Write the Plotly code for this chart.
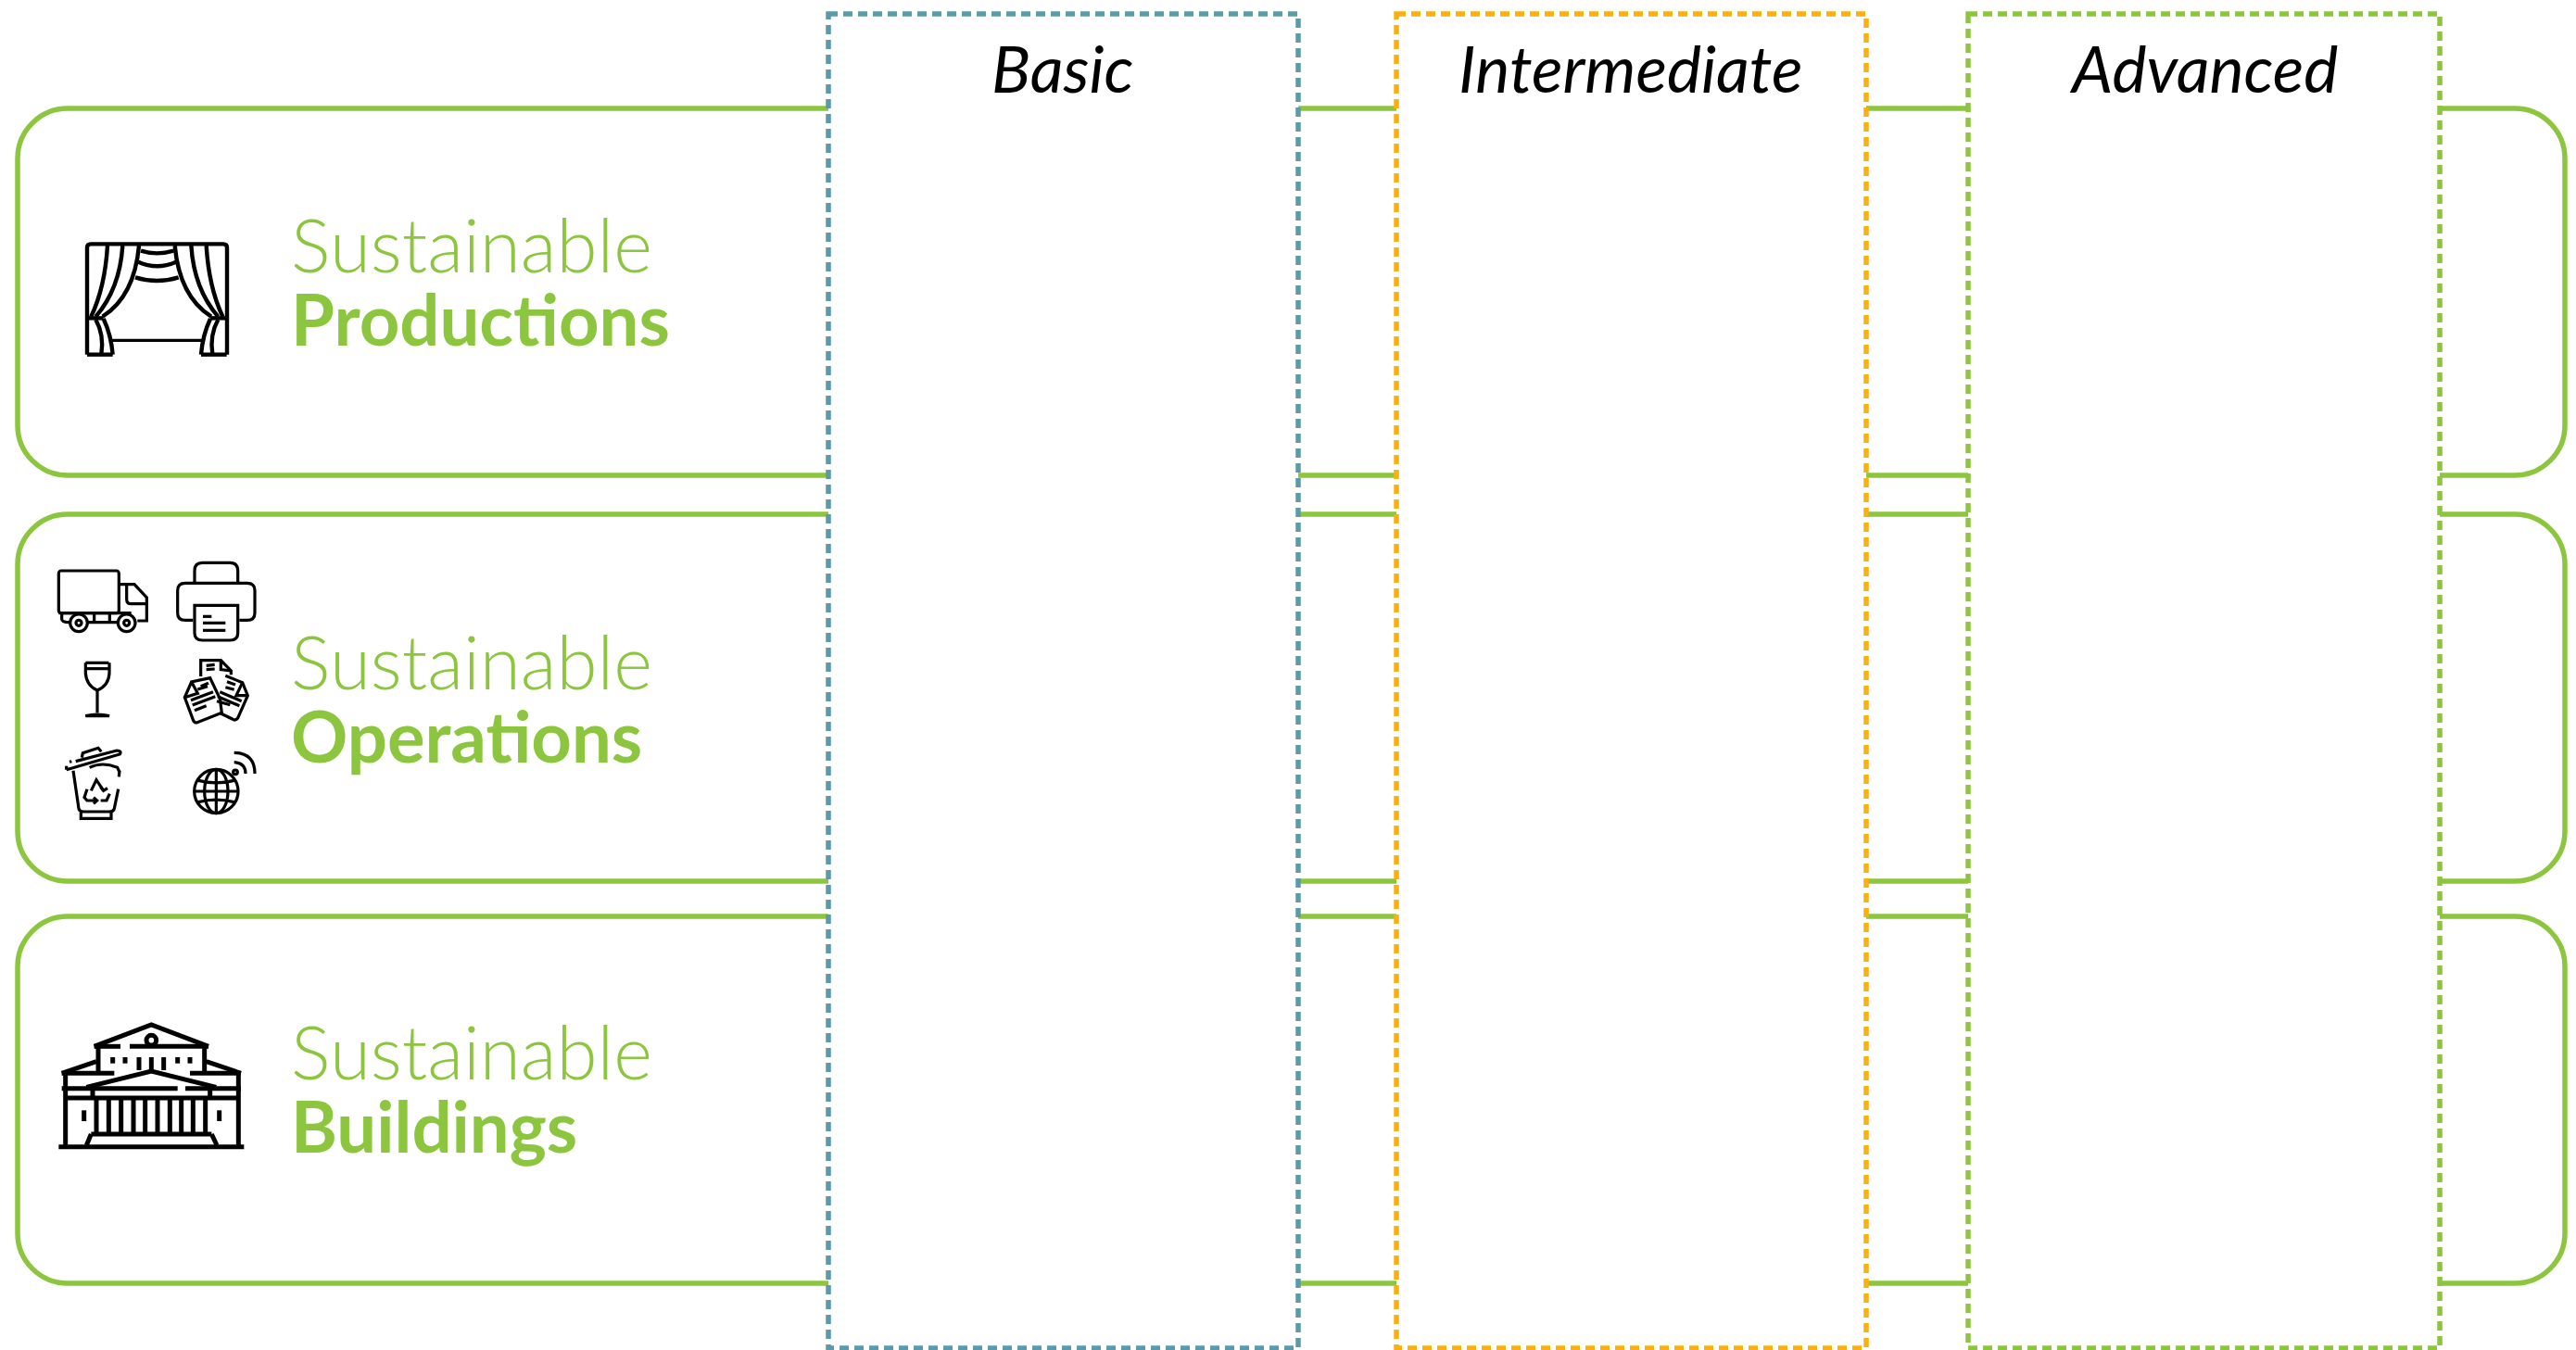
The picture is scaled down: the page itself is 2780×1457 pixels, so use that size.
import re
import plotly.graph_objects as go

# ---- content ----
row_light = ["Sustainable", "Sustainable", "Sustainable"]
row_bold = ["Productions", "Operations", "Buildings"]
levels = ["Basic", "Intermediate", "Advanced"]
level_colors = ["#5B9BA9", "#FBB00F", "#8CC63F"]
GREEN = "#8CC63F"
W, H = 2780, 1457

# ---- layout geometry (pixels on the axes) ----
row_top = [117, 555, 989]
row_bottom = [513, 951, 1385]
row_left, row_right, radius = 19, 2768, 54
level_left = [894, 1507, 2124]
level_right = [1401, 2014, 2633]
level_top, level_bottom = 15, 1455
light_base = [290, 740, 1161]
bold_base = [370, 820, 1241]
text_x = 312

shapes = []


def rounded(x0, y0, x1, y1, r):
    k = r * 0.45
    return (f"M{x0+r},{y0} L{x1-r},{y0} C{x1-k},{y0} {x1},{y0+k} {x1},{y0+r} "
            f"L{x1},{y1-r} C{x1},{y1-k} {x1-k},{y1} {x1-r},{y1} "
            f"L{x0+r},{y1} C{x0+k},{y1} {x0},{y1-k} {x0},{y1-r} "
            f"L{x0},{y0+r} C{x0},{y0+k} {x0+k},{y0} {x0+r},{y0} Z")


for t, b in zip(row_top, row_bottom):
    shapes.append(dict(type="path", path=rounded(row_left, t, row_right, b, radius),
                       line=dict(color=GREEN, width=5.5), fillcolor="white", layer="above"))

for l, r, c in zip(level_left, level_right, level_colors):
    shapes.append(dict(type="rect", x0=l, x1=r, y0=level_top, y1=level_bottom,
                       line=dict(color=c, width=5.5, dash="10px,6px"),
                       fillcolor="white", layer="above"))


def ell(cx, cy, rx, ry=None):
    ry = rx if ry is None else ry
    k = 0.5523
    return (f"M{cx-rx},{cy} C{cx-rx},{cy-k*ry} {cx-k*rx},{cy-ry} {cx},{cy-ry} "
            f"C{cx+k*rx},{cy-ry} {cx+rx},{cy-k*ry} {cx+rx},{cy} "
            f"C{cx+rx},{cy+k*ry} {cx+k*rx},{cy+ry} {cx},{cy+ry} "
            f"C{cx-k*rx},{cy+ry} {cx-rx},{cy+k*ry} {cx-rx},{cy} Z")


def place(path, ox, oy):
    """Icon paths are noted at 3x zoom around origin (ox, oy)."""
    out, is_x = [], True
    for tok in re.findall(r"[A-Za-z]|-?\d+\.?\d*", path):
        if tok.isalpha():
            out.append(tok)
            is_x = True
        else:
            v = float(tok)
            out.append(f"{(ox + v/3) if is_x else (oy + v/3):.2f}")
            is_x = not is_x
    res, i = "", 0
    while i < len(out):
        if out[i].isalpha():
            res += out[i]
            i += 1
        else:
            res += out[i] + "," + out[i + 1] + " "
            i += 2
    return res


def icon(paths, ox, oy, width=3.2):
    for p in paths:
        shapes.append(dict(type="path", path=place(p, ox, oy),
                           line=dict(color="black", width=width), layer="above"))


def mirror(p, axis):
    out, is_x = [], True
    for tok in re.findall(r"[A-Za-z]|-?\d+\.?\d*", p):
        if tok.isalpha():
            out.append(tok)
            is_x = True
        else:
            out.append(str(2 * axis - float(tok)) if is_x else tok)
            is_x = not is_x
    return " ".join(out)


# curtain
half = [
    "M85,305 Q130,210 138,75",
    "M100,305 Q178,215 187,75",
    "M122,305 Q225,240 240,75",
    "M100,315 Q128,365 118,428",
    "M125,312 Q150,365 155,428",
    "M72,310 L125,310",
    "M72,428 L155,428",
]
curtain = half + [mirror(p, 298) for p in half] + [
    "M72,428 L72,82 Q72,70 84,70 L513,70 Q525,70 525,82 L525,428",
    "M246,92 Q298,108 352,92",
    "M238,128 Q298,155 360,128",
    "M228,178 Q298,200 368,178",
]
icon(curtain, 70, 240, 4.4)
icon(["M150,382 L445,382"], 70, 240, 3.4)

# truck
truck = [
    rounded(100, 78, 295, 215, 8),
    "M295,122 L345,122 L385,165 L385,240 L355,240",
    "M320,125 L320,170 Q320,185 335,185 L385,185",
    "M100,215 L335,215",
    "M110,215 L110,235 Q110,245 135,245",
    "M195,245 L295,245",
    "M215,215 L215,245",
    "M265,215 L265,245",
    ell(165, 247, 28), ell(165, 247, 9),
    ell(320, 247, 28), ell(320, 247, 9),
]
printer = [
    "M540,115 L540,78 Q540,52 565,52 L655,52 Q680,52 680,78 L680,115",
    "M535,238 L510,238 Q485,238 485,215 L485,142 Q485,118 510,118 L710,118 Q735,118 735,142 L735,215 Q735,238 710,238 L685,238",
    "M540,190 L680,190 L680,280 Q680,303 655,303 L565,303 Q540,303 540,280 Z",
    "M567,226 L595,226", "M567,247 L640,247", "M567,271 L640,271",
]
glass = [
    "M187,376 L262,376", "M187,395 L262,395",
    "M187,376 L187,410 Q190,450 225,465 Q262,450 264,410 L264,376",
    "M225,465 L225,538",
    "M187,548 Q225,538 264,548 Z",
]
docs = [
    "M560,420 L560,368 L625,368 L658,402 L658,415",
    "M625,368 L625,398 L658,402",
    "M578,385 L605,382", "M578,398 L605,396",
    "M508,488 L530,438 L590,425 L622,492 L628,538 L547,570 Q538,570 535,560 Z",
    "M530,438 L550,475 L508,488",
    "M560,452 L585,442", "M550,462 L582,452",
    "M528,497 L600,470", "M533,513 L607,485", "M540,530 L578,515",
    "M640,418 L695,440 L712,482 L680,555 Q672,565 662,558 L625,540",
    "M695,440 L675,482 L712,482",
    "M645,437 L672,447", "M640,455 L668,463",
    "M622,470 L692,500", "M615,485 L685,515", "M612,500 L655,512",
]
bin_icon = [
    "M125,722 L298,672 Q305,660 288,660 L155,695",
    "M175,683 L178,668 L228,652 L238,664",
    "M125,710 L125,722", "M135,697 L142,695",
    "M200,715 Q240,695 290,715 L297,730",
    "M147,725 L165,848 Q168,858 180,858 L265,858 Q278,858 280,848 L293,785",
    "M295,745 L297,725",
    "M172,860 L172,880 L270,880 L270,860",
    "M205,790 L222,755 L245,790",
    "M236,778 L245,790 L258,782",
    "M192,785 L183,812 L192,822 L222,822",
    "M213,812 L224,822 L213,832",
    "M265,800 L255,822 L236,822",
]
globe = [
    ell(610, 792, 71),
    ell(610, 792, 38, 71),
    "M610,721 L610,863",
    "M552,757 Q610,772 668,757",
    "M542,792 L678,792",
    "M552,827 Q610,812 668,827",
    ell(672, 730, 7),
    "M668,698 Q705,700 705,735",
    "M668,667 Q735,668 735,735",
]
icon(truck + printer + glass + docs + bin_icon + globe, 30, 590, 3.2)

# theatre
theatre = [
    "M100,473 L700,473",
    "M122,470 L122,235", "M682,470 L682,235",
    "M110,235 L222,197", "M690,235 L578,197",
    "M110,235 L280,235", "M525,235 L690,235",
    "M110,284 L485,284", "M510,284 L690,284",
    "M122,315 L682,315",
    "M190,280 L400,228 L610,280",
    "M215,148 L400,78 L585,148",
    "M215,148 L300,148", "M330,148 L585,148",
    "M228,150 L228,230", "M572,150 L572,230",
    "M275,183 L275,203", "M315,183 L315,203", "M485,183 L485,203", "M525,183 L525,203",
    "M360,183 L360,225", "M400,183 L400,225", "M440,183 L440,225",
    "M222,315 L222,430", "M262,315 L262,430", "M302,315 L302,430", "M342,315 L342,430",
    "M380,315 L380,430", "M420,315 L420,430", "M460,315 L460,430", "M497,315 L497,430",
    "M535,315 L535,430", "M575,315 L575,430",
    "M205,432 L595,432", "M205,432 L190,468", "M595,432 L612,468",
    "M182,355 L182,390", "M620,355 L620,390",
    "M210,290 L210,315", "M590,290 L590,315",
    ell(400, 128, 16),
]
icon(theatre, 30, 1080, 5)

annotations = []
for lt, bd, yl, yb in zip(row_light, row_bold, light_base, bold_base):
    annotations.append(dict(x=text_x, y=yl - 27, text=lt, xanchor="left", yanchor="middle", showarrow=False,
                            font=dict(family="Lato", size=80, color=GREEN, weight=300)))
    annotations.append(dict(x=text_x, y=yb - 27, text=bd, xanchor="left", yanchor="middle", showarrow=False,
                            font=dict(family="Lato", size=76, color=GREEN, weight=700)))
for name, l, r in zip(levels, level_left, level_right):
    annotations.append(dict(x=(l + r) / 2 - 1, y=73, text=f"<i>{name}</i>", xanchor="center", yanchor="middle",
                            showarrow=False, font=dict(family="Lato", size=70, color="black")))

fig = go.Figure()
fig.add_trace(go.Scatter(x=[0, W], y=[0, H], mode="markers", marker=dict(opacity=0), hoverinfo="skip", showlegend=False))
fig.update_layout(
    width=W, height=H, autosize=False,
    margin=dict(l=0, r=0, t=0, b=0, pad=0),
    paper_bgcolor="white", plot_bgcolor="white", showlegend=False,
    xaxis=dict(range=[0, W], visible=False, fixedrange=True),
    yaxis=dict(range=[H, 0], visible=False, fixedrange=True),
    shapes=shapes, annotations=annotations,
)
fig.write_html("out.html", config=dict(displayModeBar=False),
               post_script="document.body.style.margin='0';document.body.style.overflow='hidden';")
